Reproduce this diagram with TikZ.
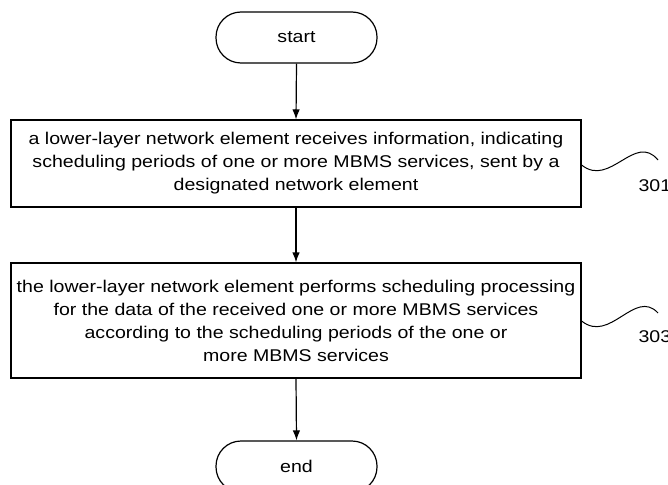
\documentclass[tikz,border=0pt]{standalone}
\usepackage{fontspec}
\setmainfont{Liberation Sans}[FakeStretch=1.15]
\usetikzlibrary{arrows.meta}
\begin{document}
\begin{tikzpicture}[x=1pt,y=-1pt,
  line width=1.2pt,
  term/.style={draw, rectangle, rounded corners=25pt, minimum width=161pt, minimum height=51pt, inner sep=0pt, font=\fontsize{17}{23}\selectfont},
  procbox/.style={draw, rectangle, minimum width=570pt, inner sep=0pt, align=center, font=\fontsize{17}{23}\selectfont},
  arr/.style={-{Latex[length=10pt,width=7.5pt]}},
  lbl/.style={anchor=west, inner sep=0pt, font=\fontsize{17}{20}\selectfont},
  wave/.style={line width=1pt}
]
\useasboundingbox[fill=white] (0,0) rectangle (668,484);
\node[term] (start) at (296.5,37.5) {start};
\node[procbox, minimum height=87pt] (b1) at (296,163.5) {a lower-layer network element receives information, indicating\\scheduling periods of one or more MBMS services, sent by a\\designated network element};
\node[procbox, minimum height=115pt] (b2) at (296,320.5) {the lower-layer network element performs scheduling processing\\for the data of the received one or more MBMS services\\according to the scheduling periods of the one or\\more MBMS services};
\node[term] (end) at (296.5,466.5) {end};
\draw[arr] (start.south) -- (b1.north);
\draw[arr] (b1.south) -- (b2.north);
\draw[arr] (b2.south) -- (end.north);
\coordinate (w1) at (658,160);
\coordinate (w2) at (658,313);
\draw[wave] (b1.east |- 0,165) .. controls (610,188) and (635,132) .. (w1);
\draw[wave] (b2.east |- 0,321) .. controls (610,344) and (635,288) .. (w2);
\node[lbl] (l1) at (638,186) {301};
\node[lbl] (l2) at (638,337) {303};
\end{tikzpicture}
\end{document}
